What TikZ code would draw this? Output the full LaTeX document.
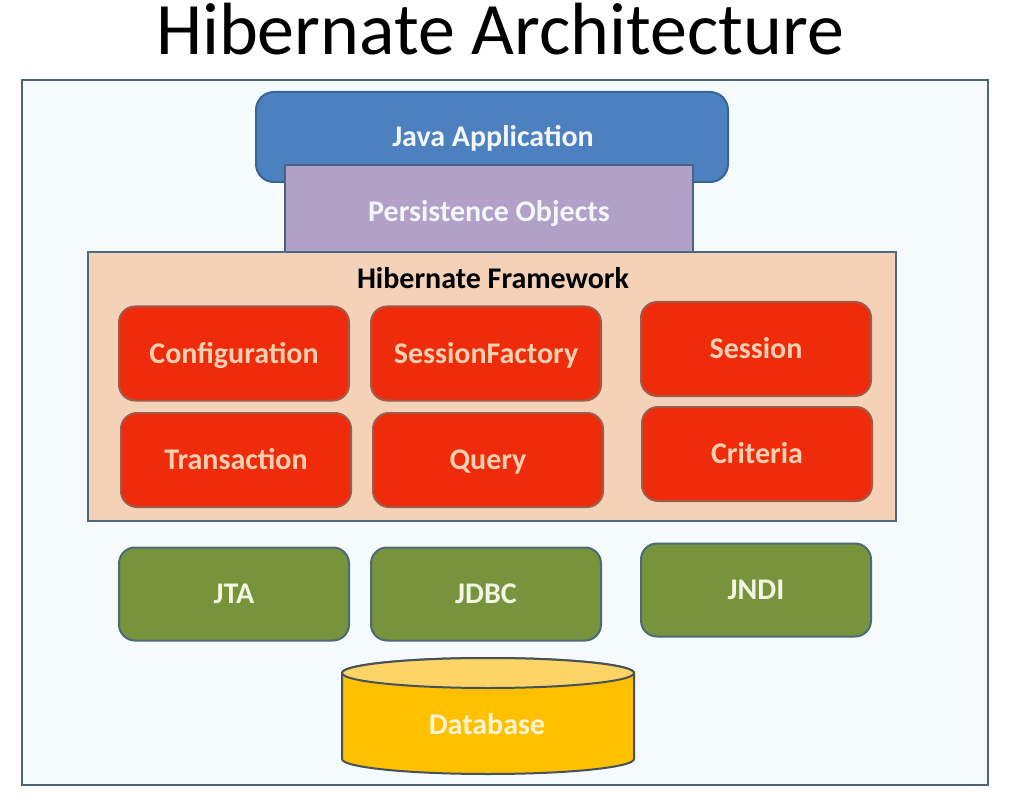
\documentclass[tikz,border=0pt]{standalone}
\usepackage{fontspec}
\setmainfont{Carlito}
\usetikzlibrary{positioning}
\definecolor{framefill}{HTML}{F5FAFC}
\definecolor{frameline}{HTML}{4C6478}
\definecolor{javafill}{HTML}{4D80BE}
\definecolor{javaline}{HTML}{3A6496}
\definecolor{persfill}{HTML}{B1A0C7}
\definecolor{persline}{HTML}{4A6483}
\definecolor{hibfill}{HTML}{F3D2B8}
\definecolor{hibline}{HTML}{4D6982}
\definecolor{redfill}{HTML}{EE2B0B}
\definecolor{redline}{HTML}{A05A4C}
\definecolor{redtext}{HTML}{FAD0B0}
\definecolor{greenfill}{HTML}{77933C}
\definecolor{greenline}{HTML}{4D6A78}
\definecolor{greentext}{HTML}{F2F7E4}
\definecolor{dbfill}{HTML}{FFC000}
\definecolor{dbtop}{HTML}{FFD466}
\definecolor{dbline}{HTML}{46525A}
\definecolor{dbtext}{HTML}{FFF3D6}
\definecolor{lighttext}{HTML}{F2F7FC}
\tikzset{
  lbl/.style={font=\fontsize{30}{36}\selectfont\bfseries, text height=19pt, text depth=0pt},
  box/.style={draw, line width=2pt, inner sep=0pt, lbl},
  redbox/.style={box, fill=redfill, draw=redline, text=redtext, rounded corners=16pt, minimum width=230pt, minimum height=94pt},
  greenbox/.style={box, fill=greenfill, draw=greenline, text=greentext, rounded corners=16pt, minimum width=230pt, minimum height=93pt},
}
\begin{document}
\begin{tikzpicture}[x=1pt,y=1pt]
\useasboundingbox (0,0) rectangle (1021,-805);
\fill[white] (0,0) rectangle (1021,-805);
% title
\node[anchor=base, font=\fontsize{74}{78}\selectfont, inner sep=0pt] (title) at (500,-55) {Hibernate Architecture};
% outer frame
\node[draw=frameline, fill=framefill, line width=2pt, minimum width=966pt, minimum height=705pt, inner sep=0pt] (frame) at (505,-432.5) {};
% Java application
\node[box, fill=javafill, draw=javaline, text=lighttext, rounded corners=18pt, minimum width=472pt, minimum height=90pt] (java) at (492,-137) {};
\node[lbl, text=lighttext, inner sep=0pt] (javatext) at (493,-137) {Java Application};
% Persistence objects
\node[box, fill=persfill, draw=persline, text=lighttext, minimum width=408pt, minimum height=95pt] (pers) at (489,-212.5) {Persistence Objects};
% Hibernate framework
\node[draw=hibline, fill=hibfill, line width=2pt, minimum width=808pt, minimum height=269pt, inner sep=0pt] (hib) at (492,-386.5) {};
\node[lbl, inner sep=0pt] (hibtitle) at (493,-279) {Hibernate Framework};
% red components
\node[redbox] (conf) at (234,-353.5) {Configuration};
\node[redbox] (sf) at (486,-353.5) {SessionFactory};
\node[redbox] (sess) at (756,-349) {Session};
\node[redbox] (trans) at (236,-460) {Transaction};
\node[redbox] (query) at (488,-460) {Query};
\node[redbox] (crit) at (757,-454) {Criteria};
% green
\node[greenbox] (jta) at (234,-594) {JTA};
\node[greenbox] (jdbc) at (486,-594) {JDBC};
\node[greenbox] (jndi) at (756,-590) {JNDI};
% database cylinder
\filldraw[fill=dbfill, draw=dbline, line width=2pt]
  (342,-673) -- (342,-759) arc[start angle=180, end angle=360, x radius=146pt, y radius=15pt]
  -- (634,-673) arc[start angle=0, end angle=180, x radius=146pt, y radius=15pt] -- cycle;
\filldraw[fill=dbtop, draw=dbline, line width=2pt] (488,-673) ellipse[x radius=146pt, y radius=15pt];
\node[lbl, text=dbtext, inner sep=0pt] (db) at (487,-725) {Database};
\end{tikzpicture}
\end{document}
